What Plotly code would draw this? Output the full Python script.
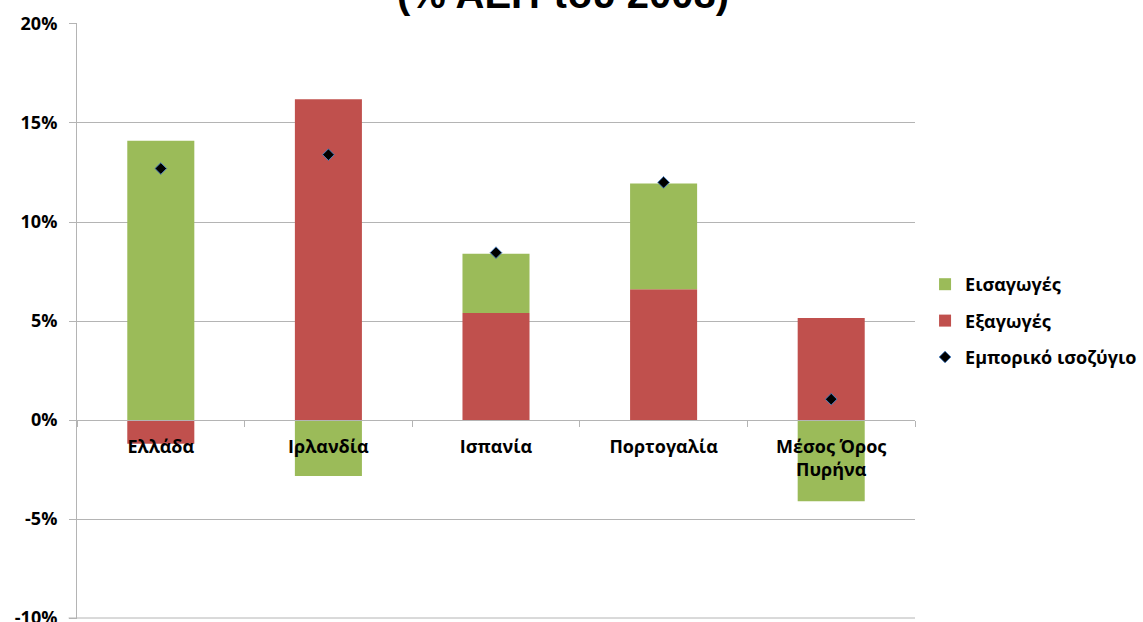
import plotly.graph_objects as go

# Trade components by country (% of 2008 GDP)
countries = ["Ελλάδα", "Ιρλανδία", "Ισπανία", "Πορτογαλία", "Μέσος Όρος<br>Πυρήνα"]
exports = [-1.2, 16.2, 5.4, 6.6, 5.15]
imports = [14.1, -2.83, 3.0, 5.35, -4.1]
balance = [12.7, 13.4, 8.45, 12.0, 1.05]

tick_vals = [-10, -5, 0, 5, 10, 15, 20]
tick_text = ["-10%", "-5%", "0%", "5%", "10%", "15%", "20%"]

GREEN = "#9BBB59"
RED = "#C0504D"
GRID = "#b4b4b4"
FONT = "Open Sans"

fig = go.Figure()
fig.add_trace(go.Bar(
    x=countries, y=exports, name="Εξαγωγές",
    marker=dict(color=RED, line=dict(width=0)),
    legendrank=2, legendgroup="exp",
))
fig.add_trace(go.Bar(
    x=countries, y=imports, name="Εισαγωγές",
    marker=dict(color=GREEN, line=dict(width=0)),
    legendrank=1, legendgroup="imp",
))
fig.add_trace(go.Scatter(
    x=countries, y=balance, name="Εμπορικό ισοζύγιο", mode="markers",
    marker=dict(symbol="diamond", size=9, color="black",
                line=dict(color="#4F81BD", width=1)),
    legendrank=3, legendgroup="bal",
))

fig.update_layout(
    width=1143, height=622,
    margin=dict(l=77, r=228, t=23, b=3, autoexpand=False),
    paper_bgcolor="white", plot_bgcolor="white",
    barmode="relative", bargap=0.6,
    font=dict(family=FONT, color="black"),
    legend=dict(x=1.012, xanchor="left", y=0.5, yanchor="middle",
                traceorder="grouped", tracegroupgap=10,
                font=dict(family=FONT, size=18, color="black", weight="bold")),
    showlegend=True,
)

# Chart heading (second line, sitting against the top edge)
fig.add_annotation(
    text="<b>(% ΑΕΠ του 2008)</b>", xref="paper", yref="paper",
    x=0.58, y=1, xanchor="center", yanchor="bottom", yshift=5,
    showarrow=False,
    font=dict(family="Liberation Sans", size=40, color="black"),
)

# Bottom border line at -10%
fig.add_shape(type="line", xref="paper", yref="y", x0=-0.01, x1=1,
              y0=-10, y1=-10, line=dict(color=GRID, width=1), layer="below")

fig.update_xaxes(
    anchor="free", position=1/3, automargin=False,
    showline=True, linecolor=GRID, linewidth=1,
    ticks="outside", tickson="boundaries", ticklen=6, tickcolor=GRID,
    ticklabelstandoff=10,
    showgrid=False,
    tickfont=dict(family=FONT, size=18, color="black", weight="bold"),
)
fig.update_yaxes(
    range=[-10.05, 20.05], tickvals=tick_vals, ticktext=tick_text,
    automargin=False,
    showgrid=True, gridcolor=GRID, gridwidth=1,
    showline=True, linecolor=GRID, linewidth=1,
    ticks="outside", ticklen=7, tickcolor=GRID,
    ticklabelstandoff=8, ticklabeloverflow="allow",
    zeroline=False,
    tickfont=dict(family=FONT, size=18, color="black", weight="bold"),
)

fig.write_html("out.html")
